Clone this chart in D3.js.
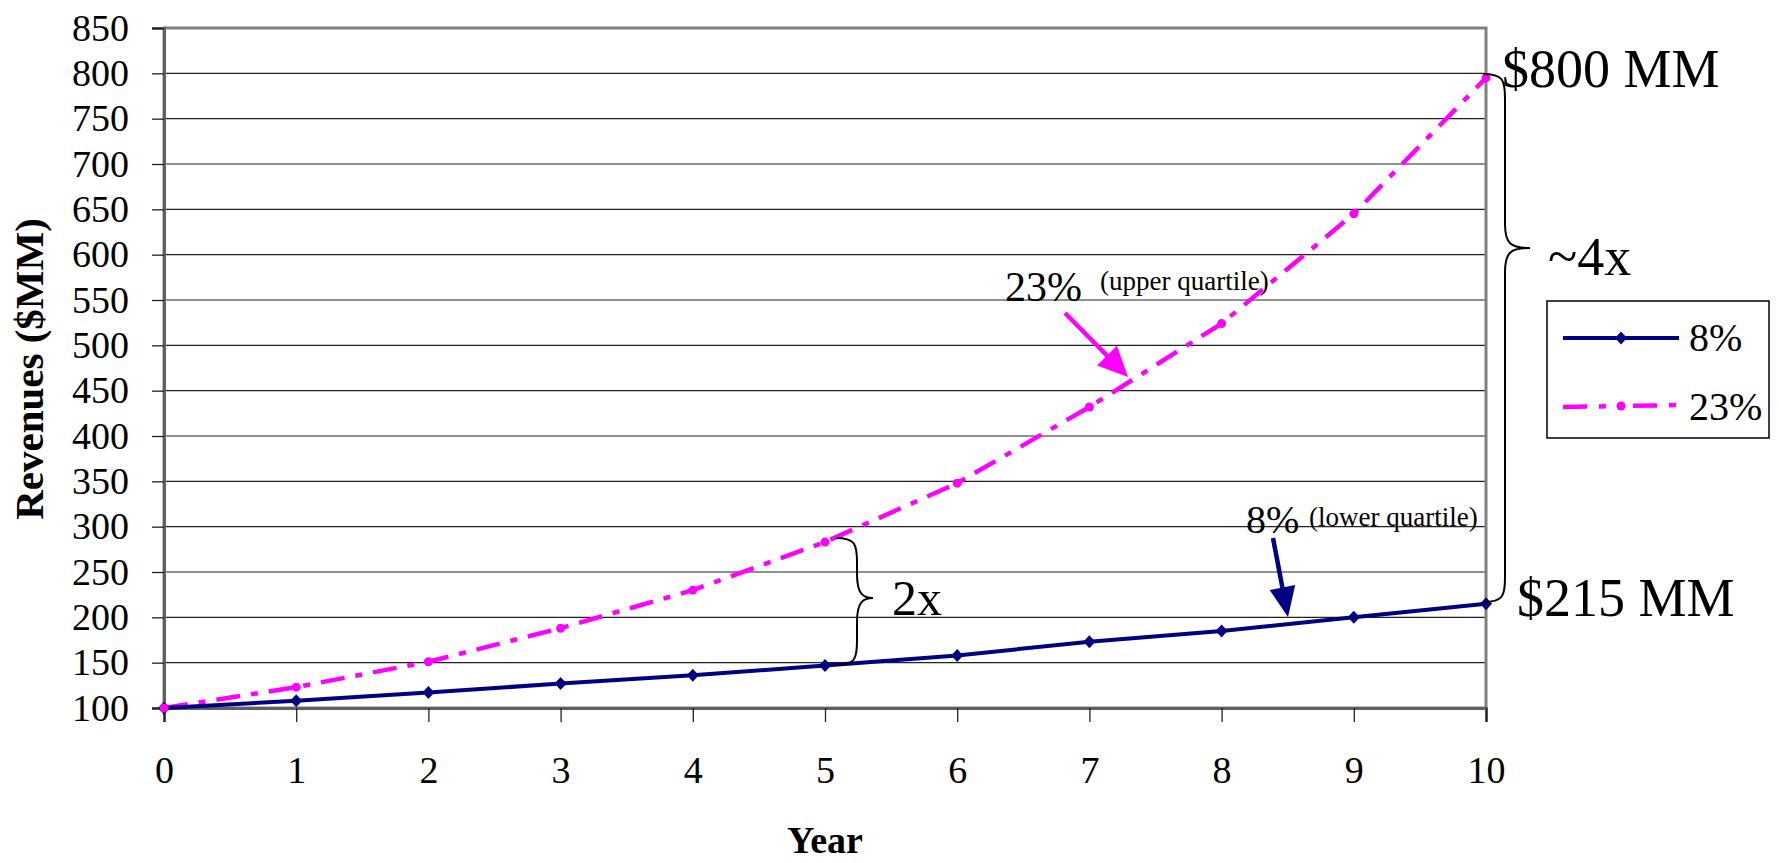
<!DOCTYPE html>
<html><head><meta charset="utf-8">
<script src="https://cdn.jsdelivr.net/npm/d3@7"></script>
<style>
html,body{margin:0;padding:0;background:#fff;}
svg{display:block;font-family:"Liberation Serif","Times New Roman",serif;}
</style></head>
<body>
<svg id="chart" width="1779" height="863"></svg>
<script>
const years = [0,1,2,3,4,5,6,7,8,9,10];
const rev8  = [100,108,117,127,136,147,158,173,185,200,215];
const rev23 = [100,123,151,188,230,283,348,432,524,645,795];
const yTicks = [100,150,200,250,300,350,400,450,500,550,600,650,700,750,800,850];
const seriesNames = ["8%","23%"];

const svg = d3.select("#chart");
const x = d3.scaleLinear().domain([0,10]).range([164,1486]);
const y = d3.scaleLinear().domain([100,850]).range([708,28]);
const NAVY = "#000080", MAG = "#FF00FF";

// gridlines
svg.append("g").selectAll("line").data(yTicks.filter(v=>v>100 && v<850)).join("line")
  .attr("x1",x(0)).attr("x2",x(10)).attr("y1",d=>y(d)).attr("y2",d=>y(d))
  .attr("stroke","#222").attr("stroke-width",1.2);

// plot border
svg.append("rect").attr("x",x(0)).attr("y",y(850)).attr("width",x(10)-x(0)).attr("height",y(100)-y(850))
  .attr("fill","none").attr("stroke","#808080").attr("stroke-width",3);

// axes
const yAxis = d3.axisLeft(y).tickValues(yTicks).tickSize(12).tickPadding(23);
const gy = svg.append("g").attr("transform",`translate(${x(0)},0)`).call(yAxis);
const xAxis = d3.axisBottom(x).tickValues(years).tickSize(14).tickPadding(34).tickFormat(d3.format("d"));
const gx = svg.append("g").attr("transform",`translate(0,${y(100)})`).call(xAxis);
[gy,gx].forEach(g=>{
  g.select(".domain").attr("stroke","#606060").attr("stroke-width",3);
  g.selectAll(".tick line").attr("stroke","#222").attr("stroke-width",1.3);
  g.selectAll(".tick text").attr("font-family","Liberation Serif, Times New Roman, serif")
    .attr("font-size",38).attr("fill","#000");
});

// axis titles
svg.append("text").attr("x",x(5)).attr("y",853).attr("text-anchor","middle")
  .attr("font-size",38).attr("font-weight","bold").text("Year");
svg.append("text").attr("transform","translate(43,369) rotate(-90)").attr("text-anchor","middle")
  .attr("font-size",41).attr("font-weight","bold").text("Revenues ($MM)");

// lines
const line = d3.line().x((d,i)=>x(years[i])).y(d=>y(d));
svg.append("path").datum(rev23).attr("d",line).attr("fill","none")
  .attr("stroke",MAG).attr("stroke-width",4.5).attr("stroke-dasharray","24,11,7,11");
svg.append("path").datum(rev8).attr("d",line).attr("fill","none")
  .attr("stroke",NAVY).attr("stroke-width",4);

const diamond = (cx,cy)=>`M${cx},${cy-6.5}L${cx+6},${cy}L${cx},${cy+6.5}L${cx-6},${cy}Z`;
svg.append("g").selectAll("path").data(rev8).join("path")
  .attr("d",(d,i)=>diamond(x(years[i]),y(d))).attr("fill",NAVY);
svg.append("g").selectAll("circle").data(rev23).join("circle")
  .attr("cx",(d,i)=>x(years[i])).attr("cy",d=>y(d)).attr("r",4.5).attr("fill",MAG);

// legend
const lg = svg.append("g");
lg.append("rect").attr("x",1547).attr("y",301).attr("width",222).attr("height",137)
  .attr("fill","#fff").attr("stroke","#000").attr("stroke-width",1.5);
lg.append("line").attr("x1",1563).attr("x2",1679).attr("y1",338).attr("y2",338)
  .attr("stroke",NAVY).attr("stroke-width",4);
lg.append("path").attr("d",diamond(1621,338)).attr("fill",NAVY);
lg.append("line").attr("x1",1563).attr("x2",1679).attr("y1",407).attr("y2",405)
  .attr("stroke",MAG).attr("stroke-width",4.5).attr("stroke-dasharray","24,12,7,27");
lg.append("circle").attr("cx",1621).attr("cy",406).attr("r",4.5).attr("fill",MAG);
lg.append("text").attr("x",1689).attr("y",351).attr("font-size",40).text(seriesNames[0]);
lg.append("text").attr("x",1689).attr("y",420).attr("font-size",40).text(seriesNames[1]);

// annotations
const ann = svg.append("g").attr("fill","#000");
ann.append("text").attr("x",1502).attr("y",87).attr("font-size",54).text("$800 MM");
ann.append("text").attr("x",1517).attr("y",616).attr("font-size",54).text("$215 MM");
ann.append("text").attr("x",1548).attr("y",275).attr("font-size",54).text("~4x");
ann.append("text").attr("x",892).attr("y",615).attr("font-size",50).text("2x");
ann.append("text").attr("x",1005).attr("y",301).attr("font-size",42).text("23%");
ann.append("text").attr("x",1100).attr("y",290).attr("font-size",27).text("(upper quartile)");
ann.append("text").attr("x",1246).attr("y",533).attr("font-size",40).text("8%");
ann.append("text").attr("x",1309).attr("y",526).attr("font-size",27).text("(lower quartile)");

// braces
function brace(x0, xl, xt, y0, yt, y1){
  const r = 24;
  return `M${x0},${y0} C${xl-2},${y0} ${xl},${y0+6} ${xl},${y0+r}`+
    ` L${xl},${yt-r} C${xl},${yt-4} ${xl+6},${yt} ${xt},${yt}`+
    ` C${xl+6},${yt} ${xl},${yt+4} ${xl},${yt+r}`+
    ` L${xl},${y1-r} C${xl},${y1-6} ${xl-2},${y1} ${x0},${y1}`;
}
ann.append("path").attr("d",brace(1483,1505,1530,74,248,602))
  .attr("fill","none").attr("stroke","#000").attr("stroke-width",2);
ann.append("path").attr("d",brace(836,857,873,538,598,665))
  .attr("fill","none").attr("stroke","#000").attr("stroke-width",2);

// arrows
function arrow(x1,y1,x2,y2,color,w,hl,hw){
  const dx=x2-x1, dy=y2-y1, L=Math.hypot(dx,dy), ux=dx/L, uy=dy/L;
  const bx=x2-ux*hl, by=y2-uy*hl;
  svg.append("line").attr("x1",x1).attr("y1",y1).attr("x2",bx+ux*2).attr("y2",by+uy*2)
    .attr("stroke",color).attr("stroke-width",w);
  svg.append("path").attr("d",`M${x2},${y2}L${bx-uy*hw/2},${by+ux*hw/2}L${bx+uy*hw/2},${by-ux*hw/2}Z`)
    .attr("fill",color);
}
arrow(1065,313,1128,377,MAG,4.5,30,28);
arrow(1273,538,1288,617,NAVY,4.5,30,26);
</script>
</body></html>
